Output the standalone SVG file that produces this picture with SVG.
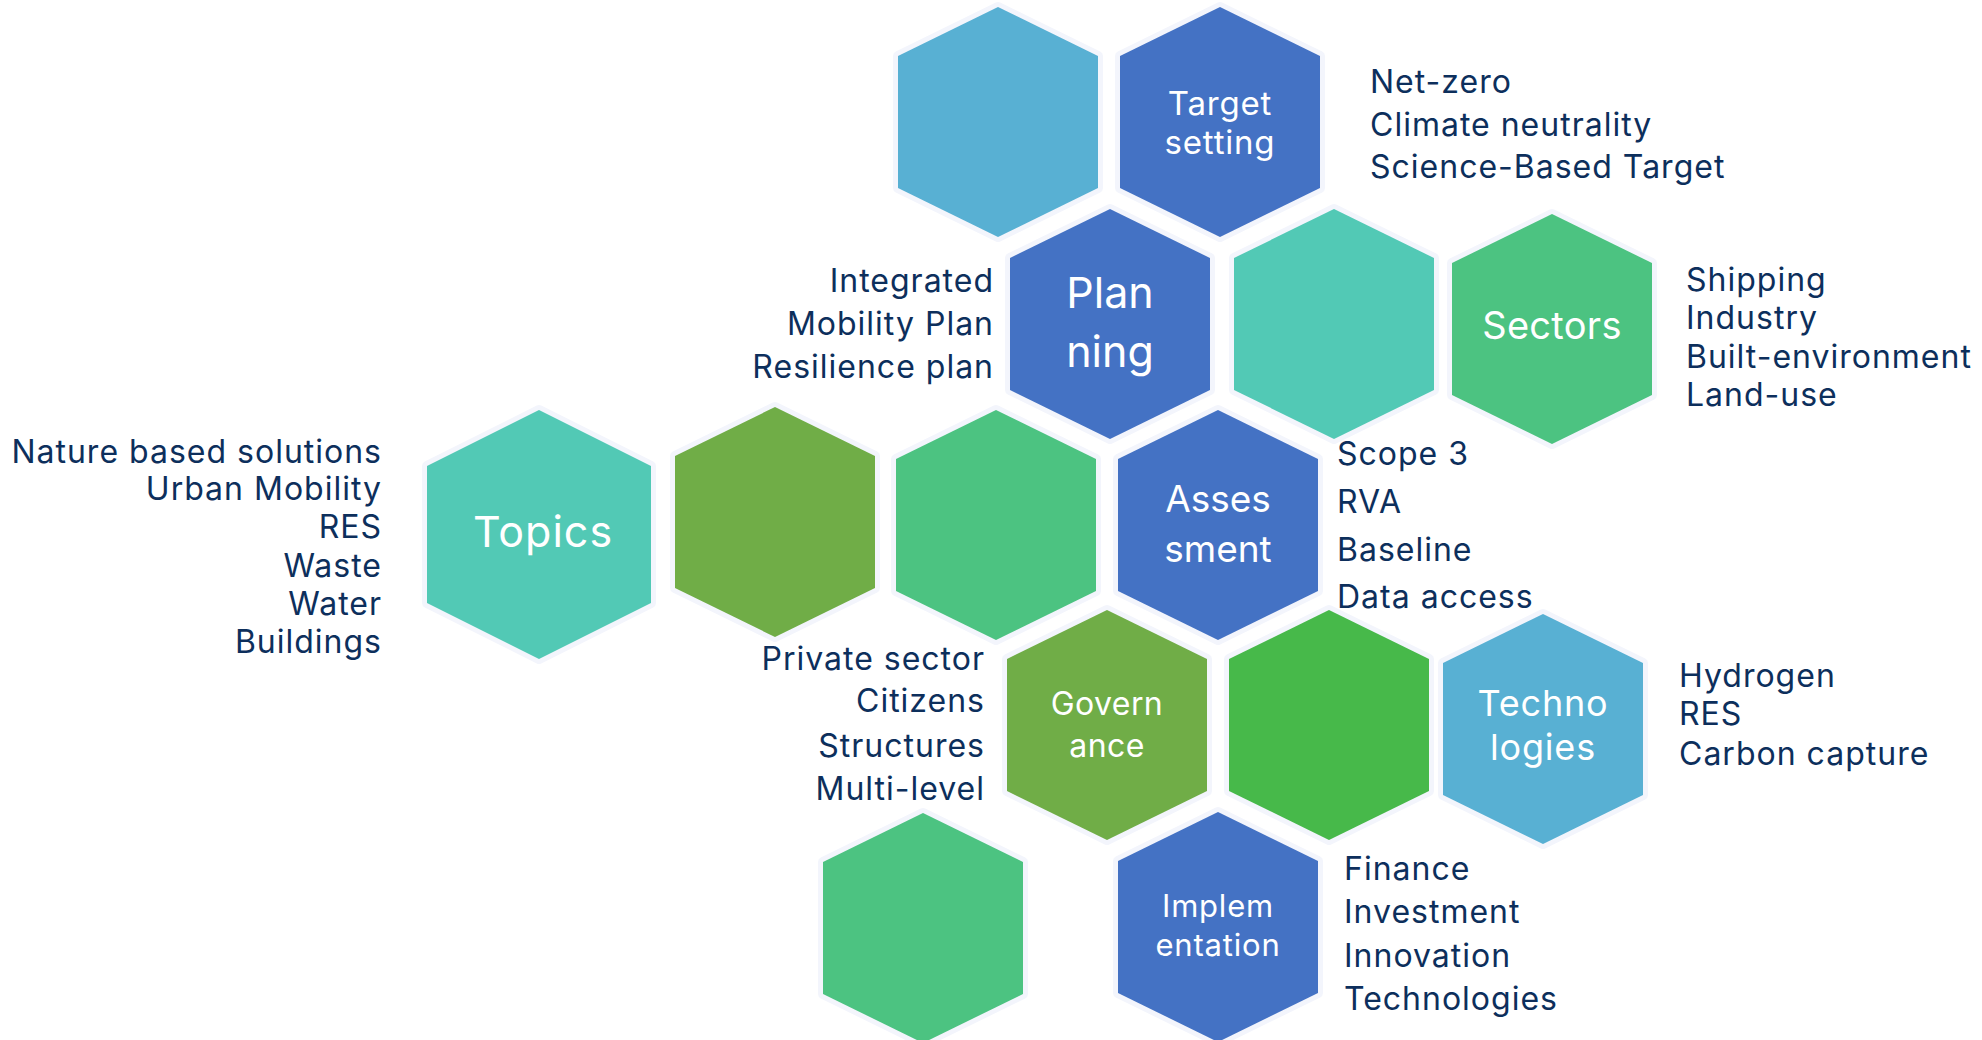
<svg xmlns="http://www.w3.org/2000/svg" xmlns:xlink="http://www.w3.org/1999/xlink" width="1982" height="1040" viewBox="0 0 1982 1040">
<style>
.hex{stroke:#F3F5FC;stroke-width:10;paint-order:stroke;stroke-linejoin:round}
.blue{fill:#4472C4}.lblue{fill:#58B0D3}.teal{fill:#52C9B5}.green{fill:#4CC381}.olive{fill:#70AD47}.bgreen{fill:#47B94A}
.lbl{font-family:Inter,"Open Sans","Liberation Sans",sans-serif;fill:#FFFFFF;text-anchor:middle;font-weight:400}
.lst{font-family:Inter,"Open Sans","Liberation Sans",sans-serif;fill:#0D2F5C;font-size:32px;font-weight:400;letter-spacing:1px}
.r{text-anchor:end}
</style>
<defs>
<path id="hx" d="M100,0 L200,49 L200,181 L100,230 L0,181 L0,49 Z"/>
<path id="hxL" d="M112,0 L224,56 L224,193 L112,249 L0,193 L0,56 Z"/>
</defs>
<rect width="1982" height="1040" fill="#FFFFFF"/>
<g id="connectors"></g>
<g id="hex-lightblue"><use xlink:href="#hx" href="#hx" class="hex lblue" x="898" y="7"/></g>
<g id="target-setting"><use href="#hx" class="hex blue" x="1120" y="7"/>
<text class="lbl" x="1220" y="115" font-size="33" letter-spacing="0.8">Target</text><text class="lbl" x="1220" y="154" font-size="33" letter-spacing="0.8">setting</text></g>
<g id="planning"><use href="#hx" class="hex blue" x="1010" y="209"/>
<text class="lbl" x="1110" y="308" font-size="43">Plan</text><text class="lbl" x="1110" y="367" font-size="43">ning</text></g>
<g id="hex-teal"><use href="#hx" class="hex teal" x="1234" y="209"/></g>
<g id="sectors"><use href="#hx" class="hex green" x="1452" y="214"/>
<text class="lbl" x="1552" y="339" font-size="38" letter-spacing="0.3">Sectors</text></g>
<g id="topics"><use href="#hxL" class="hex teal" x="427" y="410"/>
<text class="lbl" x="543" y="547" font-size="43" letter-spacing="1">Topics</text></g>
<g id="hex-olive"><use href="#hx" class="hex olive" x="675" y="407"/></g>
<g id="hex-green"><use href="#hx" class="hex green" x="896" y="410"/></g>
<g id="assessment"><use href="#hx" class="hex blue" x="1118" y="410"/>
<text class="lbl" x="1218" y="512" font-size="37">Asses</text><text class="lbl" x="1218" y="562" font-size="37">sment</text></g>
<g id="governance"><use href="#hx" class="hex olive" x="1007" y="610"/>
<text class="lbl" x="1107" y="715" font-size="32" letter-spacing="0.4">Govern</text><text class="lbl" x="1107" y="757" font-size="32" letter-spacing="0.4">ance</text></g>
<g id="hex-brightgreen"><use href="#hx" class="hex bgreen" x="1229" y="610"/></g>
<g id="technologies"><use href="#hx" class="hex lblue" x="1443" y="614"/>
<text class="lbl" x="1543" y="716" font-size="36" letter-spacing="0.8">Techno</text><text class="lbl" x="1543" y="760" font-size="36" letter-spacing="0.8">logies</text></g>
<g id="hex-green-bottom"><use href="#hx" class="hex green" x="823" y="813"/></g>
<g id="implementation"><use href="#hx" class="hex blue" x="1118" y="812"/>
<text class="lbl" x="1218" y="917" font-size="31" letter-spacing="0.8">Implem</text><text class="lbl" x="1218" y="956" font-size="31" letter-spacing="0.8">entation</text></g>
<g id="lists">
<text class="lst" x="1370" y="93">Net-zero</text>
<text class="lst" x="1370" y="136">Climate neutrality</text>
<text class="lst" x="1370" y="178">Science-Based Target</text>
<text class="lst r" x="994" y="292">Integrated</text>
<text class="lst r" x="994" y="335">Mobility Plan</text>
<text class="lst r" x="994" y="378">Resilience plan</text>
<text class="lst" x="1686" y="291">Shipping</text>
<text class="lst" x="1686" y="329">Industry</text>
<text class="lst" x="1686" y="368">Built-environment</text>
<text class="lst" x="1686" y="406">Land-use</text>
<text class="lst r" x="382" y="463">Nature based solutions</text>
<text class="lst r" x="382" y="500">Urban Mobility</text>
<text class="lst r" x="382" y="538">RES</text>
<text class="lst r" x="382" y="577">Waste</text>
<text class="lst r" x="382" y="615">Water</text>
<text class="lst r" x="382" y="653">Buildings</text>
<text class="lst" x="1337" y="465">Scope 3</text>
<text class="lst" x="1337" y="513">RVA</text>
<text class="lst" x="1337" y="561">Baseline</text>
<text class="lst" x="1337" y="608">Data access</text>
<text class="lst r" x="985" y="670">Private sector</text>
<text class="lst r" x="985" y="712">Citizens</text>
<text class="lst r" x="985" y="757">Structures</text>
<text class="lst r" x="985" y="800">Multi-level</text>
<text class="lst" x="1679" y="687">Hydrogen</text>
<text class="lst" x="1679" y="725">RES</text>
<text class="lst" x="1679" y="765">Carbon capture</text>
<text class="lst" x="1344" y="880">Finance</text>
<text class="lst" x="1344" y="923">Investment</text>
<text class="lst" x="1344" y="967">Innovation</text>
<text class="lst" x="1344" y="1010">Technologies</text>
</g>
</svg>
